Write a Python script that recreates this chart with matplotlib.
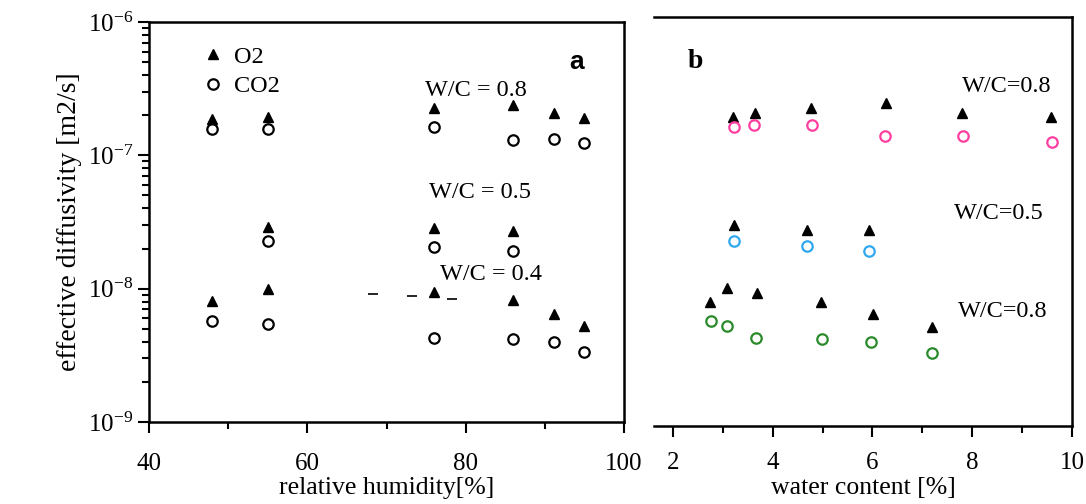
import numpy as np
import matplotlib
matplotlib.use("Agg")
import matplotlib.pyplot as plt
from matplotlib.ticker import FixedLocator, LogLocator, NullFormatter

plt.rcParams['font.family'] = ['Liberation Serif', 'DejaVu Serif']
plt.rcParams['mathtext.fontset'] = 'stix'

# ---- panel a : relative humidity [%]
rh_08 = [48, 55, 76, 86, 91.2, 95]
o2_08 = [1.88e-7, 1.95e-7, 2.28e-7, 2.40e-7, 2.08e-7, 1.92e-7]
co2_08 = [1.58e-7, 1.58e-7, 1.64e-7, 1.31e-7, 1.33e-7, 1.24e-7]

rh_05 = [55, 76, 86]
o2_05 = [2.88e-8, 2.84e-8, 2.70e-8]
co2_05 = [2.26e-8, 2.07e-8, 1.90e-8]

rh_04 = [48, 55, 76, 86, 91.2, 95]
o2_04 = [8.05e-9, 1.0e-8, 9.4e-9, 8.2e-9, 6.45e-9, 5.25e-9]
co2_04 = [5.7e-9, 5.42e-9, 4.26e-9, 4.2e-9, 4.0e-9, 3.34e-9]

# small stray dashes in the scan
stray_x = [68.3, 73.2, 78.3]
stray_y = [9.1e-9, 8.8e-9, 8.3e-9]

# ---- panel b : water content [%]
wc_08 = [3.21, 3.64, 4.76, 6.27, 7.79, 9.58]
o2_08b = [1.85e-7, 1.99e-7, 2.16e-7, 2.35e-7, 1.99e-7, 1.85e-7]
wc_08c = [3.23, 3.62, 4.79, 6.25, 7.81, 9.60]
co2_08b = [1.55e-7, 1.62e-7, 1.62e-7, 1.33e-7, 1.33e-7, 1.22e-7]

wc_05 = [3.23, 4.68, 5.94]
o2_05b = [3.0e-8, 2.76e-8, 2.76e-8]
co2_05b = [2.26e-8, 2.08e-8, 1.91e-8]

wc_04 = [2.74, 3.08, 3.68, 4.96, 6.01, 7.19]
o2_04b = [8.1e-9, 1.02e-8, 9.5e-9, 8.1e-9, 6.6e-9, 5.28e-9]
wc_04c = [2.76, 3.09, 3.66, 4.98, 5.98, 7.19]
co2_04b = [5.85e-9, 5.37e-9, 4.41e-9, 4.31e-9, 4.14e-9, 3.46e-9]

PINK = '#ff3fa0'
BLUE = '#2fa8f0'
GREEN = '#2a8a2a'
FS = 17.5
TFS = 18
LFS = 18.5

fig = plt.figure(figsize=(10.86, 5.04), dpi=100)
axa = fig.add_axes([149/1086, 1-422/504, 475/1086, 400/504])
axb = fig.add_axes([654/1086, 1-426/504, 418/1086, 409/504])

tri = dict(marker='^', ms=7, color='black', ls='none', mec='black')
circ = dict(marker='o', ms=7.5, mfc='none', mew=1.6, ls='none')

# panel a
axa.plot(rh_08, o2_08, **tri, label='O2')
axa.plot(rh_08, co2_08, **circ, mec='black', label='CO2')
axa.plot(rh_05, o2_05, **tri)
axa.plot(rh_05, co2_05, **circ, mec='black')
axa.plot(rh_04, o2_04, **tri)
axa.plot(rh_04, co2_04, **circ, mec='black')
axa.plot(stray_x, stray_y, marker='_', ms=7, mew=1.2, color='black', ls='none')

axa.set_yscale('log')
axa.set_ylim(1e-9, 1e-6)
axa.set_xlim(40, 100)
axa.xaxis.set_major_locator(FixedLocator([40, 60, 80, 100]))
axa.xaxis.set_minor_locator(FixedLocator([50, 70, 90]))
axa.yaxis.set_major_locator(LogLocator(base=10))
axa.yaxis.set_minor_locator(LogLocator(base=10, subs=np.arange(2, 10)))
axa.yaxis.set_minor_formatter(NullFormatter())
axa.set_xlabel('relative humidity[%]', fontsize=LFS, labelpad=2)
axa.set_ylabel('effective diffusivity [m2/s]', fontsize=20, labelpad=4)
axa.tick_params(axis='both', which='major', labelsize=TFS, length=8, width=1.5, direction='out')
axa.tick_params(axis='x', which='major', pad=14)
axa.tick_params(axis='both', which='minor', length=5, width=1.5, direction='out')
for s in axa.spines.values():
    s.set_linewidth(1.8)

axa.legend(loc='upper left', bbox_to_anchor=(0.063, 0.995), frameon=False,
           fontsize=FS, handlelength=1.0, handletextpad=0.35, labelspacing=0.3,
           numpoints=1)
axa.text(0.688, 0.83, 'W/C = 0.8', fontsize=FS, ha='center', va='center', transform=axa.transAxes)
axa.text(0.696, 0.573, 'W/C = 0.5', fontsize=FS, ha='center', va='center', transform=axa.transAxes)
axa.text(0.72, 0.37, 'W/C = 0.4', fontsize=FS, ha='center', va='center', transform=axa.transAxes)
axa.text(0.9, 0.9, 'a', fontsize=19, fontweight='bold', family='Liberation Sans',
         ha='center', va='center', transform=axa.transAxes)

# panel b
axb.plot(wc_08, o2_08b, **tri)
axb.plot(wc_08c, co2_08b, **circ, mec=PINK)
axb.plot(wc_05, o2_05b, **tri)
axb.plot(wc_05, co2_05b, **circ, mec=BLUE)
axb.plot(wc_04, o2_04b, **tri)
axb.plot(wc_04c, co2_04b, **circ, mec=GREEN)

axb.set_yscale('log')
axb.set_ylim(1e-9, 1e-6)
axb.set_xlim(1.62, 10)
axb.xaxis.set_major_locator(FixedLocator([2, 4, 6, 8, 10]))
axb.xaxis.set_minor_locator(FixedLocator([3, 5, 7, 9]))
axb.set_yticks([])
axb.yaxis.set_minor_locator(FixedLocator([]))
axb.spines['left'].set_visible(False)
axb.set_xlabel('water content [%]', fontsize=LFS, labelpad=2)
axb.tick_params(axis='x', which='major', labelsize=TFS, length=8, width=1.5, direction='out', pad=11)
axb.tick_params(axis='x', which='minor', length=5, width=1.5, direction='out')
for s in axb.spines.values():
    s.set_linewidth(1.8)

axb.text(0.1, 0.89, 'b', fontsize=20, fontweight='bold', ha='center', va='center',
         transform=axb.transAxes)
axb.text(0.843, 0.83, 'W/C=0.8', fontsize=FS, ha='center', va='center', transform=axb.transAxes)
axb.text(0.825, 0.52, 'W/C=0.5', fontsize=FS, ha='center', va='center', transform=axb.transAxes)
axb.text(0.835, 0.28, 'W/C=0.8', fontsize=FS, ha='center', va='center', transform=axb.transAxes)

fig.savefig('out.png', dpi=100)
